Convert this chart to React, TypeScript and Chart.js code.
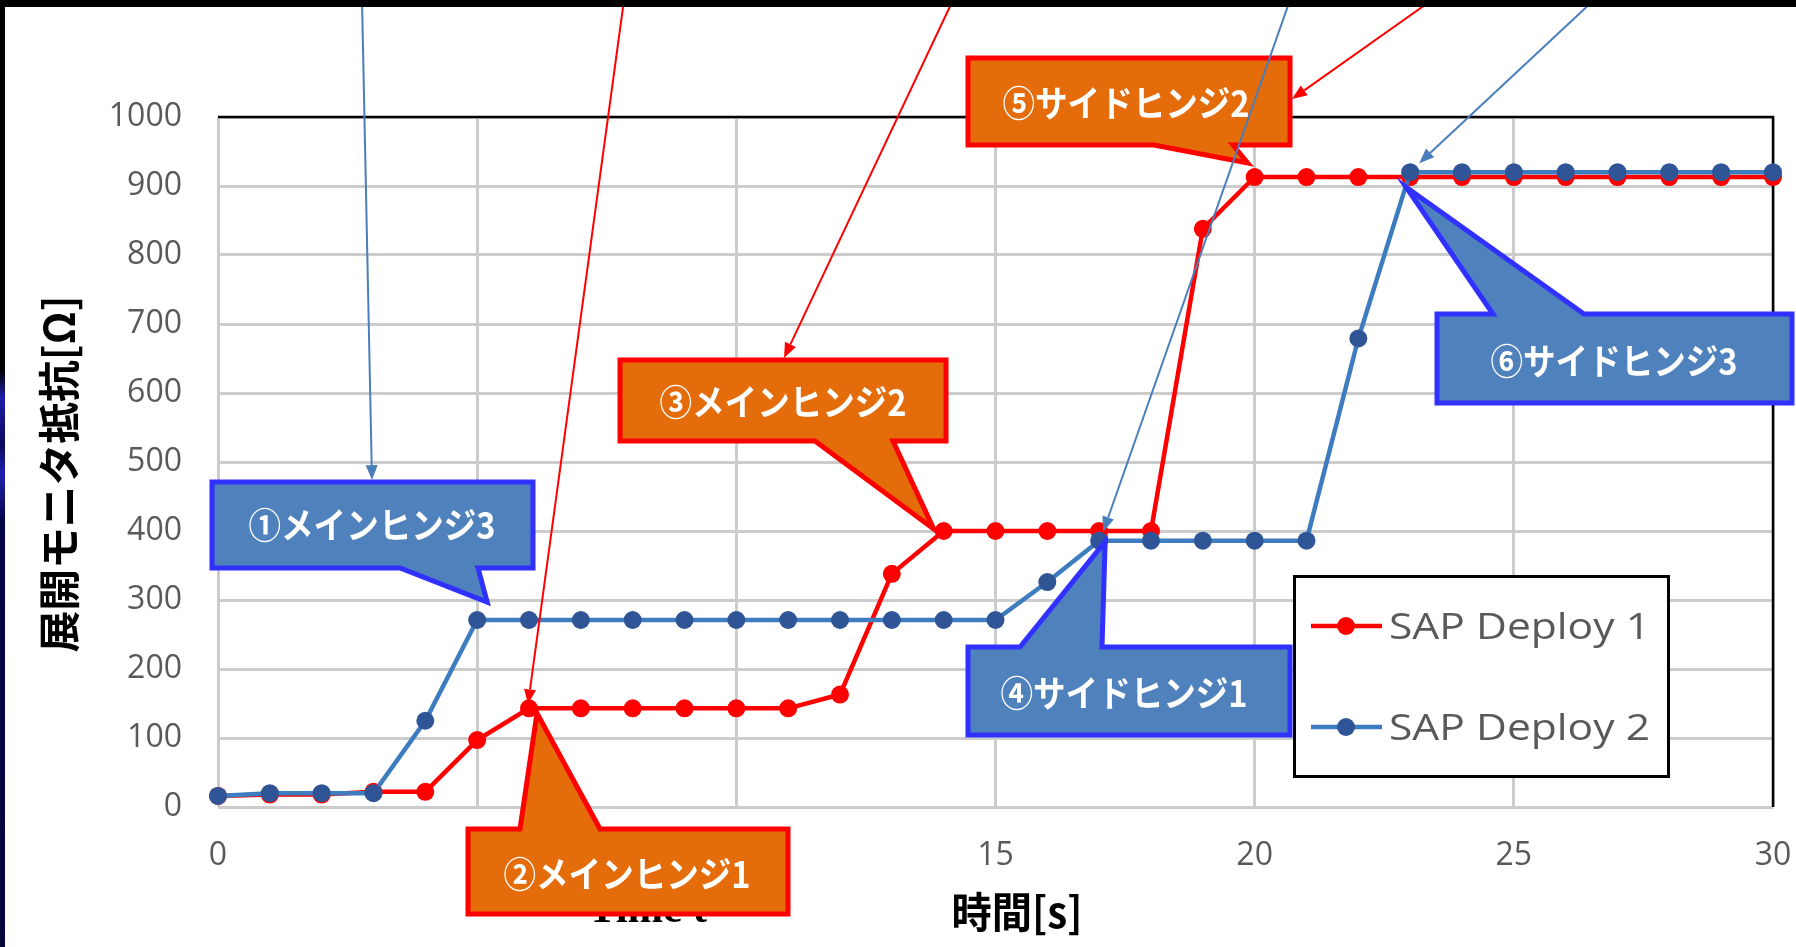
import React, { useEffect, useRef } from "react";
import { Chart, registerables } from "chart.js";

Chart.register(...registerables);

// ---------- data ----------
const TIME_S = [0, 1, 2, 3, 4, 5, 6, 7, 8, 9, 10, 11, 12, 13, 14, 15, 16, 17, 18, 19, 20, 21, 22, 23, 24, 25, 26, 27, 28, 29, 30];
const SAP_DEPLOY_1 = [16, 18, 18, 22, 22, 97, 143, 143, 143, 143, 143, 143, 163, 338, 400, 400, 400, 400, 400, 838, 913, 913, 913, 913, 913, 913, 913, 913, 913, 913, 913];
const SAP_DEPLOY_2 = [16, 20, 20, 20, 125, 271, 271, 271, 271, 271, 271, 271, 271, 271, 271, 271, 326, 386, 386, 386, 386, 386, 679, 920, 920, 920, 920, 920, 920, 920, 920];
const SERIES_NAMES = ["SAP Deploy 1", "SAP Deploy 2"];
const X_TITLE = "時間[s]";
const Y_TITLE = "展開モニタ抵抗[Ω]";
const HIDDEN_TITLE = "Time t";
const CALLOUT_LABELS = ["①メインヒンジ3", "②メインヒンジ1", "③メインヒンジ2", "④サイドヒンジ1", "⑤サイドヒンジ2", "⑥サイドヒンジ3"];

// ---------- style / layout ----------
const W = 1796;
const H = 947;
const RED = "#ff0000";
const BLUE_LINE = "#3d7cbf";
const BLUE_POINT = "#2f5597";
const BLUE_ARROW = "#4a7ebb";
const ORANGE = "#e46c0a";
const CALL_BLUE = "#4f81bd";
const CALL_BLUE_EDGE = "#3030ff";
const TICK_GRAY = "#595959";
const JP = '"Noto Sans CJK JP", "Noto Sans", sans-serif';
const SERIES = [SAP_DEPLOY_1, SAP_DEPLOY_2];

type Anchor = { ds: number; i: number; dx: number; dy: number };
type Callout = {
  label: number;
  fill: string;
  edge: string;
  box: [number, number, number, number];
  tail: "top" | "bottom";
  base: [number, number];
  tip: Anchor;
  center: [number, number];
};

const CALLOUTS: Callout[] = [
  { label: 0, fill: CALL_BLUE, edge: CALL_BLUE_EDGE, box: [212, 482, 533, 568], tail: "bottom", base: [400, 478], tip: { ds: 1, i: 5, dx: 10, dy: -18 }, center: [372, 525] },
  { label: 1, fill: ORANGE, edge: RED, box: [468, 829, 788, 914], tail: "top", base: [520, 600], tip: { ds: 0, i: 6, dx: 8, dy: 5 }, center: [627, 874] },
  { label: 2, fill: ORANGE, edge: RED, box: [620, 360, 946, 441], tail: "bottom", base: [815, 893], tip: { ds: 0, i: 14, dx: -10, dy: -2 }, center: [783, 402] },
  { label: 3, fill: CALL_BLUE, edge: CALL_BLUE_EDGE, box: [968, 647, 1290, 735], tail: "top", base: [1020, 1102], tip: { ds: 1, i: 17, dx: 6, dy: 1 }, center: [1124, 693] },
  { label: 4, fill: ORANGE, edge: RED, box: [968, 58, 1290, 145], tail: "bottom", base: [1154, 1233], tip: { ds: 0, i: 20, dx: -7, dy: -14 }, center: [1126, 103] },
  { label: 5, fill: CALL_BLUE, edge: CALL_BLUE_EDGE, box: [1437, 314, 1792, 403], tail: "top", base: [1493, 1584], tip: { ds: 1, i: 23, dx: -4, dy: 15 }, center: [1614, 361] },
];

type Arrow = { color: string; from: [number, number]; px?: [number, number]; at?: Anchor };
const ARROWS: Arrow[] = [
  { color: BLUE_ARROW, from: [362, 0], px: [372, 480] },
  { color: RED, from: [624, 0], at: { ds: 0, i: 6, dx: -1, dy: -4 } },
  { color: RED, from: [953, 0], px: [784, 358] },
  { color: BLUE_ARROW, from: [1290, 0], at: { ds: 1, i: 17, dx: 4, dy: -9 } },
  { color: RED, from: [1432, 0], px: [1292, 99] },
  { color: BLUE_ARROW, from: [1594, 0], at: { ds: 1, i: 23, dx: 9, dy: -9 } },
];

function anchorPx(chart: any, a: Anchor): [number, number] {
  const x = chart.scales.x.getPixelForValue(TIME_S[a.i]);
  const y = chart.scales.y.getPixelForValue(SERIES[a.ds][a.i]);
  return [x + a.dx, y + a.dy];
}

function fitText(ctx: CanvasRenderingContext2D, text: string, x: number, y: number, font: string, targetW: number, color: string, align: CanvasTextAlign, baseline: CanvasTextBaseline, rot = 0) {
  ctx.save();
  ctx.font = font;
  const w = ctx.measureText(text).width;
  const sx = targetW / w;
  ctx.translate(x, y);
  if (rot) ctx.rotate(rot);
  ctx.scale(sx, 1);
  ctx.textAlign = align;
  ctx.textBaseline = baseline;
  ctx.fillStyle = color;
  ctx.fillText(text, 0, 0);
  ctx.restore();
}

const overlayPlugin = {
  id: "overlay",
  beforeDraw(chart: any) {
    const ctx = chart.ctx as CanvasRenderingContext2D;
    ctx.save();
    ctx.fillStyle = "#ffffff";
    ctx.fillRect(0, 0, W, H);
    ctx.restore();
  },
  beforeDatasetsDraw(chart: any) {
    const ctx = chart.ctx as CanvasRenderingContext2D;
    const a = chart.chartArea;
    ctx.save();
    ctx.strokeStyle = "#000000";
    ctx.lineWidth = 2.5;
    ctx.beginPath();
    ctx.moveTo(a.left, a.top);
    ctx.lineTo(a.right, a.top);
    ctx.lineTo(a.right, a.bottom);
    ctx.stroke();
    ctx.restore();
  },
  afterDraw(chart: any) {
    const ctx = chart.ctx as CanvasRenderingContext2D;

    // axis titles
    fitText(ctx, Y_TITLE, 59, 474, `bold 42px ${JP}`, 357, "#000000", "center", "middle", -Math.PI / 2);
    fitText(ctx, X_TITLE, 1017, 912, `bold 42px ${JP}`, 131, "#000000", "center", "middle");
    // leftover title hidden behind callout
    fitText(ctx, HIDDEN_TITLE, 588, 922, 'bold 42px "Liberation Serif", serif', 119, "#000000", "left", "alphabetic");

    // legend
    ctx.save();
    ctx.fillStyle = "#ffffff";
    ctx.fillRect(1294.5, 576.5, 374, 200);
    ctx.strokeStyle = "#000000";
    ctx.lineWidth = 3;
    ctx.strokeRect(1294.5, 576.5, 374, 200);
    const rows = [
      { y: 626, line: RED, pt: RED },
      { y: 727, line: BLUE_LINE, pt: BLUE_POINT },
    ];
    rows.forEach((r, k) => {
      ctx.strokeStyle = r.line;
      ctx.lineWidth = 4.5;
      ctx.beginPath();
      ctx.moveTo(1311, r.y);
      ctx.lineTo(1382, r.y);
      ctx.stroke();
      ctx.fillStyle = r.pt;
      ctx.beginPath();
      ctx.arc(1346, r.y, 9, 0, Math.PI * 2);
      ctx.fill();
      fitText(ctx, SERIES_NAMES[k], 1389, r.y + 13, '36px "Open Sans", sans-serif', 261, TICK_GRAY, "left", "alphabetic");
    });
    ctx.restore();

    // callouts
    CALLOUTS.forEach((c) => {
      const [x0, y0, x1, y1] = c.box;
      const [tx, ty] = anchorPx(chart, c.tip);
      ctx.save();
      ctx.beginPath();
      if (c.tail === "bottom") {
        ctx.moveTo(x0, y0);
        ctx.lineTo(x1, y0);
        ctx.lineTo(x1, y1);
        ctx.lineTo(c.base[1], y1);
        ctx.lineTo(tx, ty);
        ctx.lineTo(c.base[0], y1);
        ctx.lineTo(x0, y1);
      } else {
        ctx.moveTo(x0, y0);
        ctx.lineTo(c.base[0], y0);
        ctx.lineTo(tx, ty);
        ctx.lineTo(c.base[1], y0);
        ctx.lineTo(x1, y0);
        ctx.lineTo(x1, y1);
        ctx.lineTo(x0, y1);
      }
      ctx.closePath();
      ctx.fillStyle = c.fill;
      ctx.fill();
      ctx.lineJoin = "miter";
      ctx.miterLimit = 6;
      ctx.lineWidth = 5;
      ctx.strokeStyle = c.edge;
      ctx.stroke();
      ctx.restore();
      fitText(ctx, CALLOUT_LABELS[c.label], c.center[0], c.center[1], `bold 36px ${JP}`, 247, "#ffffff", "center", "middle");
    });

    // thin arrows coming from above
    ARROWS.forEach((a) => {
      const [tx, ty] = a.px ? a.px : anchorPx(chart, a.at as Anchor);
      const [fx, fy] = a.from;
      const dx = tx - fx;
      const dy = ty - fy;
      const len = Math.hypot(dx, dy);
      const ux = dx / len;
      const uy = dy / len;
      const hl = 15;
      const hw = 6;
      const bx = tx - ux * hl;
      const by = ty - uy * hl;
      ctx.save();
      ctx.strokeStyle = a.color;
      ctx.fillStyle = a.color;
      ctx.lineWidth = 2;
      ctx.beginPath();
      ctx.moveTo(fx, fy);
      ctx.lineTo(bx, by);
      ctx.stroke();
      ctx.beginPath();
      ctx.moveTo(tx, ty);
      ctx.lineTo(bx - uy * hw, by + ux * hw);
      ctx.lineTo(bx + uy * hw, by - ux * hw);
      ctx.closePath();
      ctx.fill();
      ctx.restore();
    });

    // slide frame: black top bar, dark left strip
    ctx.save();
    ctx.fillStyle = "#000000";
    ctx.fillRect(0, 0, W, 7);
    const g = ctx.createLinearGradient(0, 0, 0, H);
    g.addColorStop(0, "#000000");
    g.addColorStop(0.39, "#000000");
    g.addColorStop(0.42, "#1c1ca8");
    g.addColorStop(0.47, "#0a0a60");
    g.addColorStop(0.5, "#2020b0");
    g.addColorStop(0.55, "#06064a");
    g.addColorStop(1, "#05053a");
    ctx.fillStyle = g;
    ctx.fillRect(0, 0, 5, H);
    ctx.restore();
  },
};

export default function App() {
  const ref = useRef<HTMLCanvasElement | null>(null);

  useEffect(() => {
    if (!ref.current) return;
    const chart = new Chart(ref.current, {
      type: "line",
      data: {
        datasets: [
          {
            label: SERIES_NAMES[0],
            data: TIME_S.map((t, i) => ({ x: t, y: SAP_DEPLOY_1[i] })),
            borderColor: RED,
            backgroundColor: RED,
            pointBackgroundColor: RED,
            pointBorderColor: RED,
            borderWidth: 4.5,
            pointRadius: 9,
            pointBorderWidth: 0,
            tension: 0,
            clip: false as any,
            order: 2,
          },
          {
            label: SERIES_NAMES[1],
            data: TIME_S.map((t, i) => ({ x: t, y: SAP_DEPLOY_2[i] })),
            borderColor: BLUE_LINE,
            backgroundColor: BLUE_POINT,
            pointBackgroundColor: BLUE_POINT,
            pointBorderColor: BLUE_POINT,
            borderWidth: 4.5,
            pointRadius: 9,
            pointBorderWidth: 0,
            tension: 0,
            clip: false as any,
            order: 1,
          },
        ],
      },
      options: {
        responsive: false,
        animation: false,
        devicePixelRatio: 1,
        events: [],
        layout: { padding: { top: 117, right: 23, left: 0, bottom: 0 } },
        plugins: { legend: { display: false }, tooltip: { enabled: false }, title: { display: false } },
        scales: {
          x: {
            type: "linear",
            min: 0,
            max: 30,
            ticks: {
              stepSize: 5,
              autoSkip: false,
              maxRotation: 0,
              padding: 30,
              color: TICK_GRAY,
              font: { family: '"Open Sans", sans-serif', size: 32 },
              callback: (v: any) => String(v),
            },
            grid: { color: "#cccccc", lineWidth: 3, drawTicks: false },
            border: { display: false },
            afterFit: (s: any) => {
              s.height = 140;
              s.paddingRight = 0;
              s.paddingLeft = 0;
            },
          },
          y: {
            min: 0,
            max: 1000,
            ticks: {
              stepSize: 100,
              padding: 36,
              color: TICK_GRAY,
              font: { family: '"Open Sans", sans-serif', size: 32 },
              callback: (v: any) => String(v),
            },
            grid: { color: "#cccccc", lineWidth: 3, drawTicks: false },
            border: { display: false },
            afterFit: (s: any) => {
              s.width = 218;
              s.paddingTop = 0;
              s.paddingBottom = 0;
            },
          },
        },
      },
      plugins: [overlayPlugin],
    } as any);
    return () => chart.destroy();
  }, []);

  return (
    <div style={{ position: "fixed", left: 0, top: 0, width: W, height: H, background: "#ffffff", overflow: "hidden" }}>
      <canvas ref={ref} width={W} height={H} style={{ width: W, height: H, display: "block" }} />
    </div>
  );
}
